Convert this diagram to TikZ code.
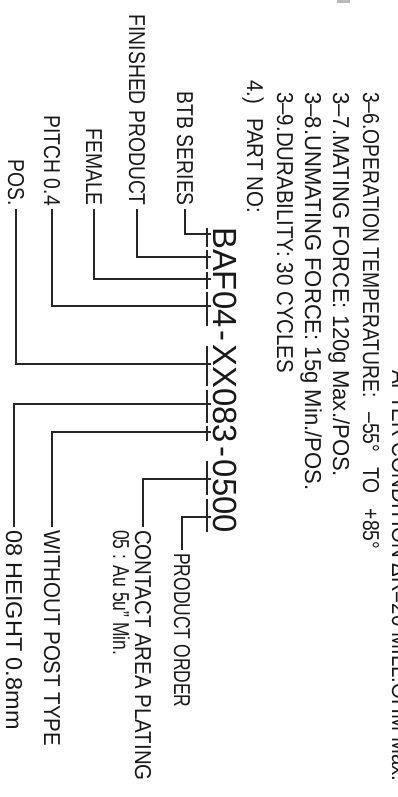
\documentclass[tikz,border=0pt]{standalone}
\usepackage{fontspec}
\newfontfamily\cadA[FakeStretch=0.84]{Liberation Sans}
\newfontfamily\cadB[FakeStretch=0.89]{Liberation Sans}
\newfontfamily\cadC[FakeStretch=0.96]{Liberation Sans}
\newfontfamily\cadD[FakeStretch=1.02]{Liberation Sans}
\newfontfamily\cadE[FakeStretch=0.76]{Liberation Sans}
\newfontfamily\pnfont[FakeStretch=0.98]{Liberation Sans}
\begin{document}
\begin{tikzpicture}[x=1bp,y=-1bp,
  lbl/.style={rotate=-90, inner xsep=3bp, inner ysep=0pt, text=black!90},
  fa/.style={font=\cadA\fontsize{23bp}{25bp}\selectfont},
  fb/.style={font=\cadB\fontsize{23bp}{25bp}\selectfont},
  fc/.style={font=\cadC\fontsize{23bp}{25bp}\selectfont},
  fd/.style={font=\cadD\fontsize{23bp}{25bp}\selectfont},
  fe/.style={font=\cadE\fontsize{23bp}{25bp}\selectfont},
  pn/.style={font=\pnfont\fontsize{33.5bp}{36bp}\selectfont, rotate=-90, inner sep=0pt, anchor=base west, text=black!90},
  ldr/.style={line width=1.3bp, black!85},
  uline/.style={line width=1.3bp, black!85}
]
\useasboundingbox[fill=white] (0,0) rectangle (397,797);
\fill[gray!55] (337,0) rectangle (350,3);

% specification lines
\node[lbl, fb, anchor=base west] (after) at (392,367) {AFTER CONDITION ΔR=20 MILL.OHM Max.};
\node[lbl, fa, anchor=base west] (s36) at (363,89) {3–6.OPERATION TEMPERATURE:\hspace{15bp}–55°\hspace{15bp}TO\hspace{15bp}+85°};
\node[lbl, fc, anchor=base west] (s37) at (333,89) {3–7.MATING FORCE: 120g Max./POS.};
\node[lbl, fc, anchor=base west] (s38) at (305,89) {3–8.UNMATING FORCE: 15g Min./POS.};
\node[lbl, fb, anchor=base west] (s39) at (277,89) {3–9.DURABILITY: 30 CYCLES};
\node[lbl, fb, anchor=base west] (s4) at (247,77) {4.)\hspace{14bp}PART NO:};

% part number
\node[pn] (pnum) at (213,227) {BAF04\kern3bp-\kern3bp XX083\kern3bp-\kern3bp 0500};
\draw[uline] (207,228) -- (207,247);
\draw[uline] (207,250) -- (207,269);
\draw[uline] (207,272) -- (207,289);
\draw[uline] (207,292) -- (207,326);
\draw[uline] (207,346) -- (207,386);
\draw[uline] (207,390) -- (207,423);
\draw[uline] (207,426) -- (207,441);
\draw[uline] (207,461) -- (207,495);
\draw[uline] (207,499) -- (207,532);

% junctions
\coordinate (jB) at (211,234);
\coordinate (jA) at (211,257);
\coordinate (jF) at (211,279);
\coordinate (j04) at (211,306);
\coordinate (jXX) at (211,364);
\coordinate (j08) at (211,404);
\coordinate (j3) at (211,432);
\coordinate (j05) at (211,479);
\coordinate (j00) at (211,517);

% left labels
\node[lbl, fa, anchor=east] (btb) at (185,209) {BTB SERIES};
\node[lbl, fa, anchor=east] (fin) at (137,209) {FINISHED PRODUCT};
\node[lbl, fa, anchor=east] (fem) at (94,209) {FEMALE};
\node[lbl, fa, anchor=east] (pit) at (52,209) {PITCH 0.4};
\node[lbl, fa, anchor=east] (pos) at (16,209) {POS.};
\draw[ldr] (btb.east) |- (jB);
\draw[ldr] (fin.east) |- (jA);
\draw[ldr] (fem.east) |- (jF);
\draw[ldr] (pit.east) |- (j04);
\draw[ldr] (pos.east) |- (jXX);

% right labels
\node[lbl, fe, anchor=west] (ord) at (182,550) {PRODUCT ORDER};
\node[lbl, fb, anchor=west] (cap) at (143,527) {CONTACT AREA PLATING};
\node[lbl, fe, anchor=base west] (au) at (113,527) {05 : Au 5u” Min.};
\node[lbl, fb, anchor=west] (wpt) at (52,527) {WITHOUT POST TYPE};
\node[lbl, fd, anchor=west] (hgt) at (14,527) {08 HEIGHT 0.8mm};
\draw[ldr] (j00) -| (ord.west);
\draw[ldr] (j05) -| (cap.west);
\draw[ldr] (j3) -| (wpt.west);
\draw[ldr] (j08) -| (hgt.west);
\end{tikzpicture}
\end{document}
